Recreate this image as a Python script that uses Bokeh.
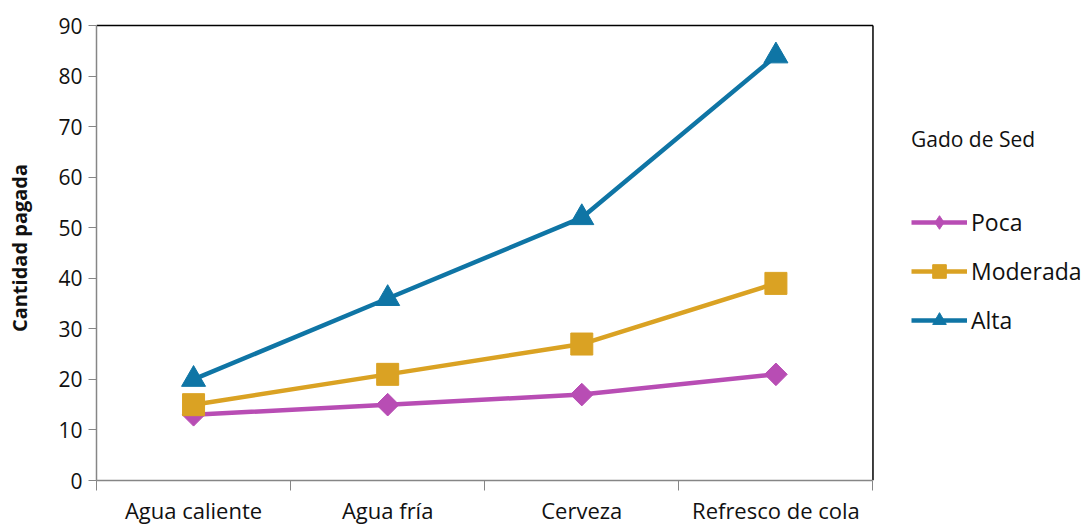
import math

from bokeh.plotting import figure
from bokeh.models import (ColumnDataSource, FixedTicker, Legend, LegendItem,
                          Range1d)
from bokeh.embed import file_html
from bokeh.resources import INLINE

# Drinks compared and the amount paid for each, by level of thirst
categories = ["Agua caliente", "Agua fría", "Cerveza", "Refresco de cola"]
poca = [13, 15, 17, 21]
moderada = [15, 21, 27, 39]
alta = [20, 36, 52, 84]
y_ticks = [0, 10, 20, 30, 40, 50, 60, 70, 80, 90]

FONT = "Open Sans"
GREY = "#868686"
TEXT = "#111111"

n = len(categories)
y_top = y_ticks[-1]
# each category sits in the middle of its own unit-wide slot
xpos = [i + 0.5 for i in range(n)]

# the frame runs on to the right edge so the legend has room beside the chart
p = figure(width=1086, height=527, output_backend="svg", toolbar_location=None,
           x_range=Range1d(0, 5.1), y_range=Range1d(0, 92),
           min_border_left=96, min_border_right=0, min_border_top=15,
           min_border_bottom=47)
p.xgrid.visible = False
p.ygrid.visible = False
p.outline_line_color = None
p.background_fill_color = "white"
p.border_fill_color = "white"

# x axis: labels in the middle of each slot, tick marks on the slot edges
xa = p.xaxis[0]
xa.bounds = (0, n)
xa.ticker = FixedTicker(ticks=xpos, minor_ticks=list(range(n + 1)))
xa.major_label_overrides = {x: c for x, c in zip(xpos, categories)}
xa.major_tick_line_color = None
xa.major_tick_out = 0
xa.major_tick_in = 0
xa.minor_tick_line_color = GREY
xa.minor_tick_out = 10
xa.minor_tick_in = 0
xa.axis_line_color = GREY
xa.axis_line_width = 1.5
xa.major_label_standoff = 4
xa.major_label_text_font = FONT
xa.major_label_text_font_size = "22px"
xa.major_label_text_color = TEXT

ya = p.yaxis[0]
ya.bounds = (0, y_top)
ya.ticker = FixedTicker(ticks=y_ticks)
ya.major_tick_line_color = GREY
ya.major_tick_out = 8
ya.major_tick_in = 0
ya.minor_tick_line_color = None
ya.axis_line_color = GREY
ya.axis_line_width = 1.5
ya.major_label_standoff = 6
ya.major_label_text_font = FONT
ya.major_label_text_font_size = "21px"
ya.major_label_text_color = TEXT
ya.axis_label = "Cantidad pagada"
ya.axis_label_text_font = FONT
ya.axis_label_text_font_style = "bold"
ya.axis_label_text_font_size = "20px"
ya.axis_label_text_color = TEXT
ya.axis_label_standoff = 22

# black border along the top and right of the chart area
p.segment(x0=[0, n], y0=[y_top, 0], x1=[n, n], y1=[y_top, y_top],
          line_color="black", line_width=1.5)

# (name, values, colour, marker, size, angle)
series = [
    ("Poca", poca, "#B84DB4", "square", 16, math.pi / 4),
    ("Moderada", moderada, "#DAA223", "square", 22, 0.0),
    ("Alta", alta, "#0F75A5", "triangle", 24, 0.0),
]
# shapes shown in the key (the key draws markers without their rotation)
legend_markers = {"Poca": "diamond", "Moderada": "square", "Alta": "triangle"}

items = []
for name, vals, color, marker, size, angle in series:
    src = ColumnDataSource(dict(x=xpos, y=vals))
    ln = p.line("x", "y", source=src, line_color=color, line_width=4.5)
    renderers = [ln]
    if legend_markers[name] != marker:
        # narrow key shape, fully covered by the wider marker drawn over it
        renderers.append(p.scatter("x", "y", source=src,
                                   marker=legend_markers[name], size=size * 1.3,
                                   fill_color=color, line_color=color))
    sc = p.scatter("x", "y", source=src, marker=marker, size=size, angle=angle,
                   fill_color=color, line_color=color)
    if len(renderers) == 1:
        renderers.append(sc)
    items.append(LegendItem(label=name, renderers=renderers))

legend = Legend(items=items, location=(815, 143), title="Gado de Sed",
                title_text_font=FONT, title_text_font_size="21px",
                title_text_font_style="normal", title_text_color=TEXT,
                title_standoff=52, label_text_font=FONT,
                label_text_font_size="23px", label_text_color=TEXT,
                glyph_width=56, glyph_height=34, label_height=34,
                label_standoff=4, spacing=15, padding=0, margin=0,
                border_line_color=None, background_fill_alpha=0)
p.add_layout(legend, "center")

open("out.html", "w").write(file_html(p, INLINE))
